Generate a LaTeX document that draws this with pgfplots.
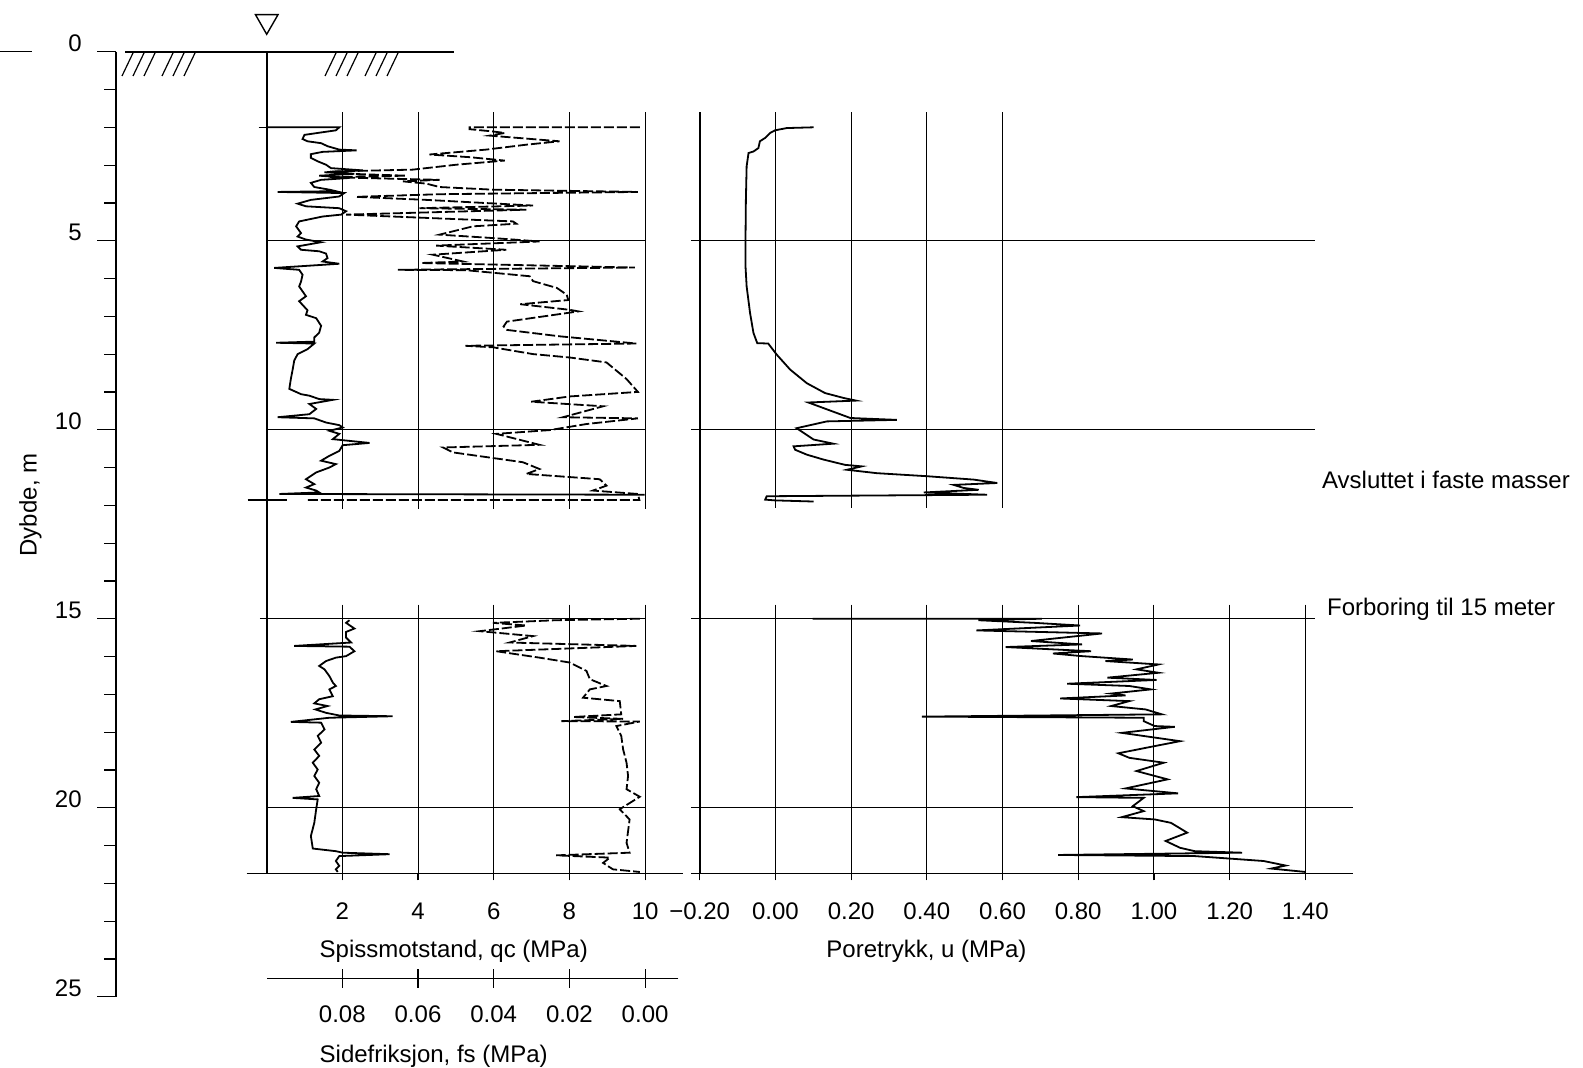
\documentclass[border=0pt]{standalone}
\usepackage{pgfplots}
\pgfplotsset{compat=1.18}
\usepackage{fontspec}
\setmainfont{Liberation Sans}
\begin{document}
\fontsize{12}{14}\selectfont
\begin{tikzpicture}
\begin{scope}[x=0.5pt,y=-0.5pt]
\path[use as bounding box] (0,0) rectangle (1583,1068);
\draw[line width=0.5pt] (0,51.7) -- (32,51.7);
\draw[line width=0.9pt] (125,51.7) -- (454,51.7);
\foreach \s in {122,133,144,162,173,184,325,336,347,365,376,387}
  {\draw[line width=0.6pt] (\s,76) -- (\s+11,53);}
\draw[line width=0.7pt] (255.5,14.7) -- (278,14.7) -- (266.7,34.3) -- cycle;
\node[anchor=base west, inner sep=0pt] at (1321.7,489) {Avsluttet i faste masser};
\node[anchor=base west, inner sep=0pt] at (1326.7,615.7) {Forboring til 15 meter};
\node[rotate=90, inner sep=0pt] at (30.3,505) {Dybde, m};
\node[anchor=base west, inner sep=0pt] at (319.3,957) {Spissmotstand, qc (MPa)};
\node[anchor=base west, inner sep=0pt] at (319.3,1062) {Sidefriksjon, fs (MPa)};
\node[anchor=base west, inner sep=0pt] at (826,957) {Poretrykk, u (MPa)};
\end{scope}

% depth axis
\begin{axis}[
  at={(58pt,-25.85pt)}, anchor=north west,
  scale only axis, x=1pt, y=18.9pt,
  xmin=0, xmax=1, ymin=0, ymax=25, y dir=reverse,
  hide x axis, axis y line*=left,
  y axis line style={-, line width=0.8pt},
  ytick={0,5,10,15,20,25}, yticklabels={0,5,10,15,20,25},
  minor ytick={1,2,3,4,6,7,8,9,11,12,13,14,16,17,18,19,21,22,23,24},
  tick align=outside, major tick length=9.5pt, minor tick length=6pt,
  tick style={black, line width=0.6pt},
  yticklabel style={anchor=base east, inner sep=0pt, xshift=-7.5pt},
]
\addplot[draw=none] coordinates {(0,0)};
\end{axis}

% qc data axis
\begin{axis}[
  at={(133.3pt,-25.85pt)}, anchor=north west,
  scale only axis, x=18.925pt, y=18.9pt,
  xmin=0, xmax=10, ymin=0, ymax=21.75, y dir=reverse,
  hide axis, clip=false,
]
\draw[line width=0.9pt] (axis cs:0,0) -- (axis cs:0,21.75);
\draw[line width=0.5pt] (axis cs:2,1.6) -- (axis cs:2,12.1);
\draw[line width=0.5pt] (axis cs:4,1.6) -- (axis cs:4,12.1);
\draw[line width=0.5pt] (axis cs:6,1.6) -- (axis cs:6,12.1);
\draw[line width=0.5pt] (axis cs:8,1.6) -- (axis cs:8,12.1);
\draw[line width=0.5pt] (axis cs:10,1.6) -- (axis cs:10,12.1);
\draw[line width=0.5pt] (axis cs:2,14.63) -- (axis cs:2,21.75);
\draw[line width=0.5pt] (axis cs:4,14.63) -- (axis cs:4,21.75);
\draw[line width=0.5pt] (axis cs:6,14.63) -- (axis cs:6,21.75);
\draw[line width=0.5pt] (axis cs:8,14.63) -- (axis cs:8,21.75);
\draw[line width=0.5pt] (axis cs:10,14.63) -- (axis cs:10,21.75);
\draw[line width=0.5pt] (axis cs:0,5) -- (axis cs:10,5);
\draw[line width=0.5pt] (axis cs:0,10) -- (axis cs:10,10);
\draw[line width=0.5pt] (axis cs:-0.18,15) -- (axis cs:10,15);
\draw[line width=0.5pt] (axis cs:0,20) -- (axis cs:10,20);
\draw[line width=0.7pt] (axis cs:-0.21,2) -- (axis cs:0,2);
\draw[line width=0.7pt] (axis cs:-0.5,11.86) -- (axis cs:0.55,11.86);
\addplot[black, line width=0.9pt] coordinates {
(0,2.00) (1.92,2.00) (1.83,2.08) (1.00,2.20) (0.95,2.31) (1.08,2.37) (1.44,2.42) (1.61,2.50) (1.92,2.59) (2.38,2.61) (1.48,2.65) (1.17,2.71) (1.17,2.81) (1.35,2.90) (1.57,2.99) (1.70,3.08) (2.54,3.14) (1.53,3.19) (2.32,3.23) (1.39,3.28) (2.19,3.34) (1.44,3.39) (1.17,3.47) (1.26,3.58) (1.66,3.65) (1.83,3.69) (0.29,3.71) (2.05,3.74) (1.92,3.83) (1.17,3.92) (0.82,4.02) (1.04,4.09) (1.92,4.14) (2.10,4.22) (1.97,4.31) (1.48,4.36) (0.86,4.49) (0.78,4.62) (0.91,4.80) (0.82,4.89) (1.04,4.97) (1.44,5.04) (0.82,5.15) (0.91,5.24) (1.39,5.28) (1.57,5.34) (1.61,5.46) (1.48,5.55) (1.92,5.61) (0.20,5.72) (0.86,5.77) (0.95,5.90) (0.91,6.08) (0.86,6.21) (0.95,6.34) (1.04,6.47) (0.86,6.60) (1.08,6.84) (1.04,6.96) (1.31,7.05) (1.44,7.25) (1.39,7.43) (1.26,7.56) (1.26,7.67) (0.25,7.70) (1.26,7.72) (1.08,7.87) (0.82,8.00) (0.73,8.17) (0.69,8.40) (0.64,8.66) (0.60,8.92) (0.91,9.06) (1.13,9.10) (1.39,9.19) (1.75,9.21) (1.13,9.32) (1.31,9.45) (1.13,9.59) (0.29,9.67) (1.26,9.70) (1.57,9.81) (1.92,9.88) (2.01,9.94) (1.66,10.03) (1.92,10.11) (1.75,10.25) (2.72,10.35) (2.01,10.41) (1.92,10.56) (1.66,10.69) (1.44,10.82) (1.83,10.91) (1.66,11.00) (1.31,11.13) (1.04,11.31) (1.26,11.44) (1.04,11.53) (1.31,11.61) (1.39,11.66) (0.34,11.70) (9.99,11.72)
};
\addplot[black, line width=0.9pt] coordinates {
(2.19,15.04) (2.10,15.11) (2.32,15.26) (2.10,15.35) (2.10,15.50) (2.23,15.63) (0.73,15.72) (2.19,15.74) (2.32,15.86) (2.10,15.99) (1.83,16.03) (1.57,16.12) (1.39,16.25) (1.53,16.34) (1.66,16.52) (1.75,16.69) (1.83,16.78) (1.66,16.87) (1.75,17.05) (1.39,17.13) (1.26,17.24) (1.61,17.31) (1.29,17.40) (1.57,17.49) (1.92,17.56) (3.33,17.58) (1.66,17.62) (0.64,17.73) (1.44,17.75) (1.53,17.93) (1.35,18.10) (1.44,18.28) (1.26,18.46) (1.39,18.63) (1.22,18.81) (1.35,18.99) (1.26,19.16) (1.39,19.34) (1.31,19.51) (1.39,19.69) (0.69,19.74) (1.35,19.78) (1.31,20.04) (1.26,20.40) (1.17,20.75) (1.22,21.08) (1.83,21.15) (2.01,21.19) (3.25,21.23) (1.92,21.28) (1.83,21.41) (1.92,21.54) (1.83,21.63) (1.88,21.70)
};
\end{axis}

% fs data axis
\begin{axis}[
  at={(133.3pt,-25.85pt)}, anchor=north west,
  scale only axis, x=1892.5pt, y=18.9pt,
  xmin=0, xmax=0.1, x dir=reverse, ymin=0, ymax=21.75, y dir=reverse,
  hide axis, clip=false,
]
\addplot[black, line width=0.9pt, dash pattern=on 5pt off 1.5pt] coordinates {
(0.0014,2.00) (0.0464,2.00) (0.0464,2.05) (0.0402,2.11) (0.0371,2.15) (0.0411,2.22) (0.0226,2.37) (0.0314,2.46) (0.0420,2.59) (0.0570,2.72) (0.0464,2.79) (0.0371,2.88) (0.0499,2.99) (0.0614,3.12) (0.0834,3.17) (0.0781,3.23) (0.0631,3.28) (0.0834,3.32) (0.0543,3.39) (0.0640,3.43) (0.0578,3.49) (0.0543,3.58) (0.0402,3.65) (0.0019,3.71) (0.0543,3.77) (0.0764,3.84) (0.0578,3.92) (0.0296,4.07) (0.0596,4.14) (0.0314,4.18) (0.0790,4.31) (0.0349,4.49) (0.0340,4.55) (0.0455,4.62) (0.0543,4.84) (0.0402,4.93) (0.0279,5.02) (0.0552,5.13) (0.0367,5.24) (0.0561,5.37) (0.0481,5.55) (0.0592,5.59) (0.0027,5.71) (0.0653,5.77) (0.0473,5.78) (0.0305,5.94) (0.0296,6.07) (0.0233,6.25) (0.0207,6.43) (0.0203,6.57) (0.0330,6.68) (0.0198,6.83) (0.0176,6.87) (0.0365,7.14) (0.0374,7.27) (0.0365,7.36) (0.0225,7.53) (0.0023,7.72) (0.0475,7.78) (0.0402,7.82) (0.0296,8.00) (0.0199,8.09) (0.0102,8.22) (0.0049,8.66) (0.0019,9.00) (0.0199,9.12) (0.0301,9.26) (0.0111,9.38) (0.0217,9.67) (0.0019,9.70) (0.0155,9.85) (0.0252,10.01) (0.0393,10.11) (0.0279,10.40) (0.0534,10.47) (0.0508,10.60) (0.0323,10.86) (0.0279,11.04) (0.0314,11.17) (0.0120,11.31) (0.0102,11.48) (0.0138,11.61) (0.0019,11.70) (0.0015,11.86) (0.0892,11.86)
};
\addplot[black, line width=0.9pt, dash pattern=on 5pt off 1.5pt] coordinates {
(0.0014,15.00) (0.0235,15.04) (0.0402,15.11) (0.0314,15.18) (0.0437,15.33) (0.0296,15.46) (0.0358,15.63) (0.0023,15.72) (0.0393,15.86) (0.0340,15.94) (0.0279,16.03) (0.0199,16.16) (0.0155,16.38) (0.0146,16.60) (0.0102,16.78) (0.0146,16.87) (0.0164,17.09) (0.0067,17.18) (0.0063,17.53) (0.0190,17.60) (0.0058,17.65) (0.0221,17.71) (0.0014,17.72) (0.0076,17.84) (0.0063,18.10) (0.0058,18.46) (0.0049,18.81) (0.0045,19.16) (0.0049,19.51) (0.0014,19.71) (0.0067,20.04) (0.0041,20.31) (0.0049,20.93) (0.0041,21.19) (0.0235,21.26) (0.0093,21.32) (0.0111,21.46) (0.0085,21.63) (0.0014,21.70)
};
\end{axis}

% u data axis
\begin{axis}[
  at={(349.85pt,-25.85pt)}, anchor=north west,
  scale only axis, x=189.25pt, y=18.9pt,
  xmin=-0.2, xmax=1.4, ymin=0, ymax=21.75, y dir=reverse,
  hide axis, clip=false,
]
\draw[line width=0.9pt] (axis cs:-0.2,1.6) -- (axis cs:-0.2,21.75);
\draw[line width=0.5pt] (axis cs:0,1.6) -- (axis cs:0,12.08);
\draw[line width=0.5pt] (axis cs:0.2,1.6) -- (axis cs:0.2,12.08);
\draw[line width=0.5pt] (axis cs:0.4,1.6) -- (axis cs:0.4,12.08);
\draw[line width=0.5pt] (axis cs:0.6,1.6) -- (axis cs:0.6,12.08);
\draw[line width=0.5pt] (axis cs:0,14.63) -- (axis cs:0,21.75);
\draw[line width=0.5pt] (axis cs:0.2,14.63) -- (axis cs:0.2,21.75);
\draw[line width=0.5pt] (axis cs:0.4,14.63) -- (axis cs:0.4,21.75);
\draw[line width=0.5pt] (axis cs:0.6,14.63) -- (axis cs:0.6,21.75);
\draw[line width=0.5pt] (axis cs:0.8,14.63) -- (axis cs:0.8,21.75);
\draw[line width=0.5pt] (axis cs:1.0,14.63) -- (axis cs:1.0,21.75);
\draw[line width=0.5pt] (axis cs:1.2,14.63) -- (axis cs:1.2,21.75);
\draw[line width=0.5pt] (axis cs:1.4,14.63) -- (axis cs:1.4,21.75);
\draw[line width=0.5pt] (axis cs:-0.223,5) -- (axis cs:1.426,5);
\draw[line width=0.5pt] (axis cs:-0.223,10) -- (axis cs:1.426,10);
\draw[line width=0.5pt] (axis cs:-0.223,15) -- (axis cs:1.426,15);
\draw[line width=0.5pt] (axis cs:-0.223,20) -- (axis cs:1.526,20);
\addplot[black, line width=0.9pt] coordinates {
(0.101,2.00) (0.030,2.02) (-0.001,2.08) (-0.014,2.15) (-0.027,2.28) (-0.041,2.37) (-0.045,2.55) (-0.058,2.64) (-0.071,2.68) (-0.076,3.03) (-0.078,3.92) (-0.079,4.97) (-0.079,5.68) (-0.076,6.21) (-0.067,6.91) (-0.058,7.44) (-0.048,7.71) (-0.019,7.72) (0.004,8.02) (0.039,8.41) (0.083,8.77) (0.131,9.03) (0.180,9.16) (0.213,9.23) (0.087,9.28) (0.198,9.69) (0.321,9.74) (0.136,9.78) (0.056,9.96) (0.101,10.26) (0.153,10.37) (0.048,10.44) (0.052,10.53) (0.083,10.66) (0.127,10.79) (0.184,10.93) (0.228,10.97) (0.189,11.06) (0.268,11.15) (0.400,11.23) (0.524,11.32) (0.586,11.41) (0.471,11.46) (0.497,11.54) (0.537,11.59) (0.392,11.66) (0.559,11.72) (-0.023,11.76) (-0.027,11.85) (-0.001,11.87) (0.101,11.90)
};
\addplot[black, line width=0.9pt] coordinates {
(0.098,15.00) (0.704,15.00) (0.536,15.04) (0.685,15.11) (0.805,15.18) (0.531,15.31) (0.863,15.39) (0.675,15.59) (0.810,15.68) (0.608,15.75) (0.834,15.86) (0.733,15.92) (0.810,15.99) (0.944,16.08) (0.872,16.12) (1.012,16.21) (0.954,16.34) (1.012,16.43) (0.877,16.56) (1.007,16.62) (0.771,16.72) (0.935,16.78) (0.992,16.87) (0.887,16.98) (0.925,17.03) (0.752,17.11) (0.935,17.18) (0.887,17.31) (0.978,17.40) (1.021,17.53) (0.387,17.59) (0.973,17.62) (0.973,17.71) (1.002,17.84) (1.055,17.86) (0.915,18.02) (1.069,18.24) (1.002,18.37) (0.906,18.56) (0.935,18.68) (1.026,18.81) (0.954,19.03) (1.036,19.25) (0.925,19.49) (1.064,19.62) (0.795,19.72) (0.973,19.74) (0.944,19.96) (0.973,20.09) (0.915,20.25) (1.002,20.31) (1.045,20.40) (1.088,20.66) (1.031,20.88) (1.069,21.06) (1.108,21.15) (1.233,21.19) (0.747,21.25) (1.108,21.28) (1.290,21.41) (1.348,21.53) (1.310,21.61) (1.401,21.70)
};
\end{axis}

% qc scale
\begin{axis}[
  at={(123.27pt,-436.65pt)}, anchor=south west,
  scale only axis, x=18.925pt, y=1pt,
  xmin=-0.53, xmax=11.0, ymin=0, ymax=1,
  axis x line*=bottom, hide y axis,
  x axis line style={-, line width=0.8pt},
  xtick={2,4,6,8,10}, xticklabels={2,4,6,8,10},
  tick align=outside, major tick length=3.5pt,
  tick style={black, line width=0.6pt},
  xticklabel style={yshift=-7pt},
]
\addplot[draw=none] coordinates {(0,0)};
\end{axis}

% fs scale
\begin{axis}[
  at={(133.3pt,-489.15pt)}, anchor=south west,
  scale only axis, x=1892.5pt, y=1pt,
  xmin=-0.00877, xmax=0.1, x dir=reverse, ymin=0, ymax=1,
  axis x line*=bottom, hide y axis,
  x axis line style={-, line width=0.8pt},
  xtick={0,0.02,0.04,0.06,0.08}, xticklabels={0.00,0.02,0.04,0.06,0.08},
  tick align=center, major tick length=9.5pt,
  tick style={black, line width=0.6pt},
  xticklabel style={yshift=-5pt},
]
\addplot[draw=none] coordinates {(0,0)};
\end{axis}

% u scale
\begin{axis}[
  at={(345.5pt,-436.65pt)}, anchor=south west,
  scale only axis, x=189.25pt, y=1pt,
  xmin=-0.223, xmax=1.526, ymin=0, ymax=1,
  axis x line*=bottom, hide y axis,
  x axis line style={-, line width=0.8pt},
  xtick={-0.2,0,0.2,0.4,0.6,0.8,1.0,1.2,1.4},
  xticklabels={−0.20,0.00,0.20,0.40,0.60,0.80,1.00,1.20,1.40},
  tick align=outside, major tick length=3.5pt,
  tick style={black, line width=0.6pt},
  xticklabel style={yshift=-7pt},
]
\addplot[draw=none] coordinates {(0,0)};
\end{axis}
\end{tikzpicture}
\end{document}
